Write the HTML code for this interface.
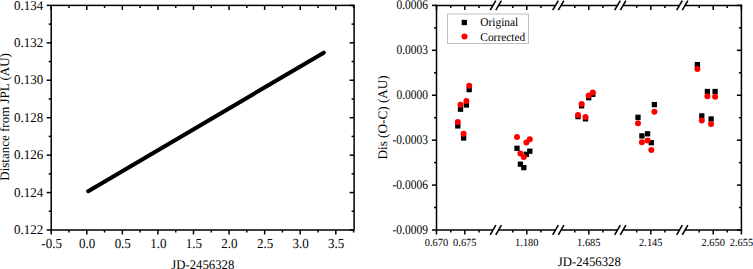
<!DOCTYPE html>
<html><head><meta charset="utf-8"><style>
html,body{margin:0;padding:0;background:#fff;width:753px;height:269px;overflow:hidden}
svg{display:block}
text{font-family:"Liberation Serif", serif;fill:#000;text-rendering:geometricPrecision}
</style></head><body>
<svg width="753" height="269" viewBox="0 0 753 269">
<line x1="88.2" y1="191.2" x2="323.8" y2="52.7" stroke="#000" stroke-width="4.1" stroke-linecap="round"/>
<rect x="51.2" y="5.4" width="302.90" height="224.6" fill="none" stroke="#000" stroke-width="1.5"/>
<line x1="51.20" y1="230.00" x2="51.20" y2="234.50" stroke="#000" stroke-width="1.5"/>
<line x1="51.20" y1="5.40" x2="51.20" y2="9.90" stroke="#000" stroke-width="1.5"/>
<text transform="translate(51.60,248.40) scale(0.97,1.03)" font-size="13.4" text-anchor="middle">-0.5</text>
<line x1="68.99" y1="230.00" x2="68.99" y2="232.50" stroke="#000" stroke-width="1.5"/>
<line x1="68.99" y1="5.40" x2="68.99" y2="7.90" stroke="#000" stroke-width="1.5"/>
<line x1="86.78" y1="230.00" x2="86.78" y2="234.50" stroke="#000" stroke-width="1.5"/>
<line x1="86.78" y1="5.40" x2="86.78" y2="9.90" stroke="#000" stroke-width="1.5"/>
<text transform="translate(87.18,248.40) scale(0.97,1.03)" font-size="13.4" text-anchor="middle">0.0</text>
<line x1="104.56" y1="230.00" x2="104.56" y2="232.50" stroke="#000" stroke-width="1.5"/>
<line x1="104.56" y1="5.40" x2="104.56" y2="7.90" stroke="#000" stroke-width="1.5"/>
<line x1="122.35" y1="230.00" x2="122.35" y2="234.50" stroke="#000" stroke-width="1.5"/>
<line x1="122.35" y1="5.40" x2="122.35" y2="9.90" stroke="#000" stroke-width="1.5"/>
<text transform="translate(122.75,248.40) scale(0.97,1.03)" font-size="13.4" text-anchor="middle">0.5</text>
<line x1="140.14" y1="230.00" x2="140.14" y2="232.50" stroke="#000" stroke-width="1.5"/>
<line x1="140.14" y1="5.40" x2="140.14" y2="7.90" stroke="#000" stroke-width="1.5"/>
<line x1="157.93" y1="230.00" x2="157.93" y2="234.50" stroke="#000" stroke-width="1.5"/>
<line x1="157.93" y1="5.40" x2="157.93" y2="9.90" stroke="#000" stroke-width="1.5"/>
<text transform="translate(158.33,248.40) scale(0.97,1.03)" font-size="13.4" text-anchor="middle">1.0</text>
<line x1="175.71" y1="230.00" x2="175.71" y2="232.50" stroke="#000" stroke-width="1.5"/>
<line x1="175.71" y1="5.40" x2="175.71" y2="7.90" stroke="#000" stroke-width="1.5"/>
<line x1="193.50" y1="230.00" x2="193.50" y2="234.50" stroke="#000" stroke-width="1.5"/>
<line x1="193.50" y1="5.40" x2="193.50" y2="9.90" stroke="#000" stroke-width="1.5"/>
<text transform="translate(193.90,248.40) scale(0.97,1.03)" font-size="13.4" text-anchor="middle">1.5</text>
<line x1="211.29" y1="230.00" x2="211.29" y2="232.50" stroke="#000" stroke-width="1.5"/>
<line x1="211.29" y1="5.40" x2="211.29" y2="7.90" stroke="#000" stroke-width="1.5"/>
<line x1="229.07" y1="230.00" x2="229.07" y2="234.50" stroke="#000" stroke-width="1.5"/>
<line x1="229.07" y1="5.40" x2="229.07" y2="9.90" stroke="#000" stroke-width="1.5"/>
<text transform="translate(229.47,248.40) scale(0.97,1.03)" font-size="13.4" text-anchor="middle">2.0</text>
<line x1="246.86" y1="230.00" x2="246.86" y2="232.50" stroke="#000" stroke-width="1.5"/>
<line x1="246.86" y1="5.40" x2="246.86" y2="7.90" stroke="#000" stroke-width="1.5"/>
<line x1="264.65" y1="230.00" x2="264.65" y2="234.50" stroke="#000" stroke-width="1.5"/>
<line x1="264.65" y1="5.40" x2="264.65" y2="9.90" stroke="#000" stroke-width="1.5"/>
<text transform="translate(265.05,248.40) scale(0.97,1.03)" font-size="13.4" text-anchor="middle">2.5</text>
<line x1="282.44" y1="230.00" x2="282.44" y2="232.50" stroke="#000" stroke-width="1.5"/>
<line x1="282.44" y1="5.40" x2="282.44" y2="7.90" stroke="#000" stroke-width="1.5"/>
<line x1="300.23" y1="230.00" x2="300.23" y2="234.50" stroke="#000" stroke-width="1.5"/>
<line x1="300.23" y1="5.40" x2="300.23" y2="9.90" stroke="#000" stroke-width="1.5"/>
<text transform="translate(300.62,248.40) scale(0.97,1.03)" font-size="13.4" text-anchor="middle">3.0</text>
<line x1="318.01" y1="230.00" x2="318.01" y2="232.50" stroke="#000" stroke-width="1.5"/>
<line x1="318.01" y1="5.40" x2="318.01" y2="7.90" stroke="#000" stroke-width="1.5"/>
<line x1="335.80" y1="230.00" x2="335.80" y2="234.50" stroke="#000" stroke-width="1.5"/>
<line x1="335.80" y1="5.40" x2="335.80" y2="9.90" stroke="#000" stroke-width="1.5"/>
<text transform="translate(336.20,248.40) scale(0.97,1.03)" font-size="13.4" text-anchor="middle">3.5</text>
<line x1="353.59" y1="230.00" x2="353.59" y2="232.50" stroke="#000" stroke-width="1.5"/>
<line x1="353.59" y1="5.40" x2="353.59" y2="7.90" stroke="#000" stroke-width="1.5"/>
<line x1="46.70" y1="5.40" x2="51.20" y2="5.40" stroke="#000" stroke-width="1.5"/>
<line x1="349.60" y1="5.40" x2="354.10" y2="5.40" stroke="#000" stroke-width="1.5"/>
<text transform="translate(43.20,10.00) scale(0.97,1.0)" font-size="13.4" text-anchor="end">0.134</text>
<line x1="48.70" y1="24.12" x2="51.20" y2="24.12" stroke="#000" stroke-width="1.5"/>
<line x1="351.60" y1="24.12" x2="354.10" y2="24.12" stroke="#000" stroke-width="1.5"/>
<line x1="46.70" y1="42.83" x2="51.20" y2="42.83" stroke="#000" stroke-width="1.5"/>
<line x1="349.60" y1="42.83" x2="354.10" y2="42.83" stroke="#000" stroke-width="1.5"/>
<text transform="translate(43.20,47.00) scale(0.97,1.0)" font-size="13.4" text-anchor="end">0.132</text>
<line x1="48.70" y1="61.55" x2="51.20" y2="61.55" stroke="#000" stroke-width="1.5"/>
<line x1="351.60" y1="61.55" x2="354.10" y2="61.55" stroke="#000" stroke-width="1.5"/>
<line x1="46.70" y1="80.27" x2="51.20" y2="80.27" stroke="#000" stroke-width="1.5"/>
<line x1="349.60" y1="80.27" x2="354.10" y2="80.27" stroke="#000" stroke-width="1.5"/>
<text transform="translate(43.20,84.00) scale(0.97,1.0)" font-size="13.4" text-anchor="end">0.130</text>
<line x1="48.70" y1="98.98" x2="51.20" y2="98.98" stroke="#000" stroke-width="1.5"/>
<line x1="351.60" y1="98.98" x2="354.10" y2="98.98" stroke="#000" stroke-width="1.5"/>
<line x1="46.70" y1="117.70" x2="51.20" y2="117.70" stroke="#000" stroke-width="1.5"/>
<line x1="349.60" y1="117.70" x2="354.10" y2="117.70" stroke="#000" stroke-width="1.5"/>
<text transform="translate(43.20,122.00) scale(0.97,1.0)" font-size="13.4" text-anchor="end">0.128</text>
<line x1="48.70" y1="136.42" x2="51.20" y2="136.42" stroke="#000" stroke-width="1.5"/>
<line x1="351.60" y1="136.42" x2="354.10" y2="136.42" stroke="#000" stroke-width="1.5"/>
<line x1="46.70" y1="155.13" x2="51.20" y2="155.13" stroke="#000" stroke-width="1.5"/>
<line x1="349.60" y1="155.13" x2="354.10" y2="155.13" stroke="#000" stroke-width="1.5"/>
<text transform="translate(43.20,159.00) scale(0.97,1.0)" font-size="13.4" text-anchor="end">0.126</text>
<line x1="48.70" y1="173.85" x2="51.20" y2="173.85" stroke="#000" stroke-width="1.5"/>
<line x1="351.60" y1="173.85" x2="354.10" y2="173.85" stroke="#000" stroke-width="1.5"/>
<line x1="46.70" y1="192.57" x2="51.20" y2="192.57" stroke="#000" stroke-width="1.5"/>
<line x1="349.60" y1="192.57" x2="354.10" y2="192.57" stroke="#000" stroke-width="1.5"/>
<text transform="translate(43.20,197.00) scale(0.97,1.0)" font-size="13.4" text-anchor="end">0.124</text>
<line x1="48.70" y1="211.28" x2="51.20" y2="211.28" stroke="#000" stroke-width="1.5"/>
<line x1="351.60" y1="211.28" x2="354.10" y2="211.28" stroke="#000" stroke-width="1.5"/>
<line x1="46.70" y1="230.00" x2="51.20" y2="230.00" stroke="#000" stroke-width="1.5"/>
<line x1="349.60" y1="230.00" x2="354.10" y2="230.00" stroke="#000" stroke-width="1.5"/>
<text transform="translate(43.20,234.00) scale(0.97,1.0)" font-size="13.4" text-anchor="end">0.122</text>
<text transform="translate(202.80,268.90) scale(0.98,1.01)" font-size="13" text-anchor="middle">JD-2456328</text>
<text transform="translate(9.0,116.9) rotate(-90)" font-size="13" text-anchor="middle">Distance from JPL (AU)</text>
<line x1="432.00" y1="5.40" x2="436.50" y2="5.40" stroke="#000" stroke-width="1.5"/>
<line x1="736.90" y1="5.40" x2="741.40" y2="5.40" stroke="#000" stroke-width="1.5"/>
<text transform="translate(428.00,9.00) scale(1.0,1.16)" font-size="11.5" text-anchor="end">0.0006</text>
<line x1="434.00" y1="27.86" x2="436.50" y2="27.86" stroke="#000" stroke-width="1.5"/>
<line x1="738.90" y1="27.86" x2="741.40" y2="27.86" stroke="#000" stroke-width="1.5"/>
<line x1="432.00" y1="50.32" x2="436.50" y2="50.32" stroke="#000" stroke-width="1.5"/>
<line x1="736.90" y1="50.32" x2="741.40" y2="50.32" stroke="#000" stroke-width="1.5"/>
<text transform="translate(428.00,54.00) scale(1.0,1.16)" font-size="11.5" text-anchor="end">0.0003</text>
<line x1="434.00" y1="72.78" x2="436.50" y2="72.78" stroke="#000" stroke-width="1.5"/>
<line x1="738.90" y1="72.78" x2="741.40" y2="72.78" stroke="#000" stroke-width="1.5"/>
<line x1="432.00" y1="95.24" x2="436.50" y2="95.24" stroke="#000" stroke-width="1.5"/>
<line x1="736.90" y1="95.24" x2="741.40" y2="95.24" stroke="#000" stroke-width="1.5"/>
<text transform="translate(428.00,99.00) scale(1.0,1.16)" font-size="11.5" text-anchor="end">0.0000</text>
<line x1="434.00" y1="117.70" x2="436.50" y2="117.70" stroke="#000" stroke-width="1.5"/>
<line x1="738.90" y1="117.70" x2="741.40" y2="117.70" stroke="#000" stroke-width="1.5"/>
<line x1="432.00" y1="140.16" x2="436.50" y2="140.16" stroke="#000" stroke-width="1.5"/>
<line x1="736.90" y1="140.16" x2="741.40" y2="140.16" stroke="#000" stroke-width="1.5"/>
<text transform="translate(428.00,144.00) scale(1.0,1.16)" font-size="11.5" text-anchor="end">-0.0003</text>
<line x1="434.00" y1="162.62" x2="436.50" y2="162.62" stroke="#000" stroke-width="1.5"/>
<line x1="738.90" y1="162.62" x2="741.40" y2="162.62" stroke="#000" stroke-width="1.5"/>
<line x1="432.00" y1="185.08" x2="436.50" y2="185.08" stroke="#000" stroke-width="1.5"/>
<line x1="736.90" y1="185.08" x2="741.40" y2="185.08" stroke="#000" stroke-width="1.5"/>
<text transform="translate(428.00,189.00) scale(1.0,1.16)" font-size="11.5" text-anchor="end">-0.0006</text>
<line x1="434.00" y1="207.54" x2="436.50" y2="207.54" stroke="#000" stroke-width="1.5"/>
<line x1="738.90" y1="207.54" x2="741.40" y2="207.54" stroke="#000" stroke-width="1.5"/>
<line x1="432.00" y1="230.00" x2="436.50" y2="230.00" stroke="#000" stroke-width="1.5"/>
<line x1="736.90" y1="230.00" x2="741.40" y2="230.00" stroke="#000" stroke-width="1.5"/>
<text transform="translate(428.00,234.00) scale(1.0,1.16)" font-size="11.5" text-anchor="end">-0.0009</text>
<line x1="436.50" y1="4.65" x2="436.50" y2="230.75" stroke="#000" stroke-width="1.5"/>
<line x1="741.40" y1="4.65" x2="741.40" y2="230.75" stroke="#000" stroke-width="1.5"/>
<line x1="435.75" y1="230.00" x2="493.00" y2="230.00" stroke="#000" stroke-width="1.5"/>
<line x1="435.75" y1="5.40" x2="493.00" y2="5.40" stroke="#000" stroke-width="1.5"/>
<line x1="498.60" y1="230.00" x2="555.50" y2="230.00" stroke="#000" stroke-width="1.5"/>
<line x1="498.60" y1="5.40" x2="555.50" y2="5.40" stroke="#000" stroke-width="1.5"/>
<line x1="561.10" y1="230.00" x2="617.50" y2="230.00" stroke="#000" stroke-width="1.5"/>
<line x1="561.10" y1="5.40" x2="617.50" y2="5.40" stroke="#000" stroke-width="1.5"/>
<line x1="623.10" y1="230.00" x2="679.50" y2="230.00" stroke="#000" stroke-width="1.5"/>
<line x1="623.10" y1="5.40" x2="679.50" y2="5.40" stroke="#000" stroke-width="1.5"/>
<line x1="685.10" y1="230.00" x2="742.15" y2="230.00" stroke="#000" stroke-width="1.5"/>
<line x1="685.10" y1="5.40" x2="742.15" y2="5.40" stroke="#000" stroke-width="1.5"/>
<line x1="490.20" y1="10.20" x2="495.80" y2="0.60" stroke="#000" stroke-width="1.6"/>
<line x1="495.80" y1="10.20" x2="501.40" y2="0.60" stroke="#000" stroke-width="1.6"/>
<line x1="490.20" y1="234.80" x2="495.80" y2="225.20" stroke="#000" stroke-width="1.6"/>
<line x1="495.80" y1="234.80" x2="501.40" y2="225.20" stroke="#000" stroke-width="1.6"/>
<line x1="552.70" y1="10.20" x2="558.30" y2="0.60" stroke="#000" stroke-width="1.6"/>
<line x1="558.30" y1="10.20" x2="563.90" y2="0.60" stroke="#000" stroke-width="1.6"/>
<line x1="552.70" y1="234.80" x2="558.30" y2="225.20" stroke="#000" stroke-width="1.6"/>
<line x1="558.30" y1="234.80" x2="563.90" y2="225.20" stroke="#000" stroke-width="1.6"/>
<line x1="614.70" y1="10.20" x2="620.30" y2="0.60" stroke="#000" stroke-width="1.6"/>
<line x1="620.30" y1="10.20" x2="625.90" y2="0.60" stroke="#000" stroke-width="1.6"/>
<line x1="614.70" y1="234.80" x2="620.30" y2="225.20" stroke="#000" stroke-width="1.6"/>
<line x1="620.30" y1="234.80" x2="625.90" y2="225.20" stroke="#000" stroke-width="1.6"/>
<line x1="676.70" y1="10.20" x2="682.30" y2="0.60" stroke="#000" stroke-width="1.6"/>
<line x1="682.30" y1="10.20" x2="687.90" y2="0.60" stroke="#000" stroke-width="1.6"/>
<line x1="676.70" y1="234.80" x2="682.30" y2="225.20" stroke="#000" stroke-width="1.6"/>
<line x1="682.30" y1="234.80" x2="687.90" y2="225.20" stroke="#000" stroke-width="1.6"/>
<line x1="436.50" y1="230.00" x2="436.50" y2="234.50" stroke="#000" stroke-width="1.5"/>
<line x1="436.50" y1="5.40" x2="436.50" y2="9.90" stroke="#000" stroke-width="1.5"/>
<text transform="translate(436.50,246.20) scale(0.92,0.97)" font-size="11.3" text-anchor="middle">0.670</text>
<line x1="450.70" y1="230.00" x2="450.70" y2="232.50" stroke="#000" stroke-width="1.5"/>
<line x1="450.70" y1="5.40" x2="450.70" y2="7.90" stroke="#000" stroke-width="1.5"/>
<line x1="464.80" y1="230.00" x2="464.80" y2="234.50" stroke="#000" stroke-width="1.5"/>
<line x1="464.80" y1="5.40" x2="464.80" y2="9.90" stroke="#000" stroke-width="1.5"/>
<text transform="translate(464.80,246.20) scale(0.92,0.97)" font-size="11.3" text-anchor="middle">0.675</text>
<line x1="479.00" y1="230.00" x2="479.00" y2="232.50" stroke="#000" stroke-width="1.5"/>
<line x1="479.00" y1="5.40" x2="479.00" y2="7.90" stroke="#000" stroke-width="1.5"/>
<line x1="512.80" y1="230.00" x2="512.80" y2="232.50" stroke="#000" stroke-width="1.5"/>
<line x1="512.80" y1="5.40" x2="512.80" y2="7.90" stroke="#000" stroke-width="1.5"/>
<line x1="526.80" y1="230.00" x2="526.80" y2="234.50" stroke="#000" stroke-width="1.5"/>
<line x1="526.80" y1="5.40" x2="526.80" y2="9.90" stroke="#000" stroke-width="1.5"/>
<text transform="translate(526.80,246.20) scale(0.92,0.97)" font-size="11.3" text-anchor="middle">1.180</text>
<line x1="540.90" y1="230.00" x2="540.90" y2="232.50" stroke="#000" stroke-width="1.5"/>
<line x1="540.90" y1="5.40" x2="540.90" y2="7.90" stroke="#000" stroke-width="1.5"/>
<line x1="574.80" y1="230.00" x2="574.80" y2="232.50" stroke="#000" stroke-width="1.5"/>
<line x1="574.80" y1="5.40" x2="574.80" y2="7.90" stroke="#000" stroke-width="1.5"/>
<line x1="588.80" y1="230.00" x2="588.80" y2="234.50" stroke="#000" stroke-width="1.5"/>
<line x1="588.80" y1="5.40" x2="588.80" y2="9.90" stroke="#000" stroke-width="1.5"/>
<text transform="translate(588.80,246.20) scale(0.92,0.97)" font-size="11.3" text-anchor="middle">1.685</text>
<line x1="602.90" y1="230.00" x2="602.90" y2="232.50" stroke="#000" stroke-width="1.5"/>
<line x1="602.90" y1="5.40" x2="602.90" y2="7.90" stroke="#000" stroke-width="1.5"/>
<line x1="636.70" y1="230.00" x2="636.70" y2="232.50" stroke="#000" stroke-width="1.5"/>
<line x1="636.70" y1="5.40" x2="636.70" y2="7.90" stroke="#000" stroke-width="1.5"/>
<line x1="650.80" y1="230.00" x2="650.80" y2="234.50" stroke="#000" stroke-width="1.5"/>
<line x1="650.80" y1="5.40" x2="650.80" y2="9.90" stroke="#000" stroke-width="1.5"/>
<text transform="translate(650.80,246.20) scale(0.92,0.97)" font-size="11.3" text-anchor="middle">2.145</text>
<line x1="664.90" y1="230.00" x2="664.90" y2="232.50" stroke="#000" stroke-width="1.5"/>
<line x1="664.90" y1="5.40" x2="664.90" y2="7.90" stroke="#000" stroke-width="1.5"/>
<line x1="699.20" y1="230.00" x2="699.20" y2="232.50" stroke="#000" stroke-width="1.5"/>
<line x1="699.20" y1="5.40" x2="699.20" y2="7.90" stroke="#000" stroke-width="1.5"/>
<line x1="713.20" y1="230.00" x2="713.20" y2="234.50" stroke="#000" stroke-width="1.5"/>
<line x1="713.20" y1="5.40" x2="713.20" y2="9.90" stroke="#000" stroke-width="1.5"/>
<text transform="translate(713.20,246.20) scale(0.92,0.97)" font-size="11.3" text-anchor="middle">2.650</text>
<line x1="727.20" y1="230.00" x2="727.20" y2="232.50" stroke="#000" stroke-width="1.5"/>
<line x1="727.20" y1="5.40" x2="727.20" y2="7.90" stroke="#000" stroke-width="1.5"/>
<line x1="741.40" y1="230.00" x2="741.40" y2="234.50" stroke="#000" stroke-width="1.5"/>
<line x1="741.40" y1="5.40" x2="741.40" y2="9.90" stroke="#000" stroke-width="1.5"/>
<text transform="translate(741.40,246.20) scale(0.92,0.97)" font-size="11.3" text-anchor="middle">2.655</text>
<text transform="translate(589.30,266.20) scale(0.98,1.01)" font-size="13" text-anchor="middle">JD-2456328</text>
<text transform="translate(386.6,117.4) rotate(-90)" font-size="13.2" text-anchor="middle">Dis (O-C) (AU)</text>
<rect x="447.5" y="14" width="81" height="29.5" fill="#fff" stroke="#c0c0c0" stroke-width="1"/>
<rect x="461.65" y="19.85" width="5.3" height="5.3" fill="#000"/>
<circle cx="464.5" cy="36.6" r="3.0" fill="#f00"/>
<text transform="translate(480.30,26.30) scale(1.0,1.04)" font-size="11.4" text-anchor="start">Original</text>
<text transform="translate(480.30,40.60) scale(1.0,1.04)" font-size="11.4" text-anchor="start">Corrected</text>
<rect x="455.15" y="123.25" width="5.3" height="5.3" fill="#000"/>
<rect x="457.85" y="106.55" width="5.3" height="5.3" fill="#000"/>
<rect x="460.95" y="135.35" width="5.3" height="5.3" fill="#000"/>
<rect x="463.75" y="102.35" width="5.3" height="5.3" fill="#000"/>
<rect x="466.55" y="86.95" width="5.3" height="5.3" fill="#000"/>
<rect x="514.35" y="145.65" width="5.3" height="5.3" fill="#000"/>
<rect x="517.75" y="161.55" width="5.3" height="5.3" fill="#000"/>
<rect x="521.15" y="164.95" width="5.3" height="5.3" fill="#000"/>
<rect x="523.75" y="151.65" width="5.3" height="5.3" fill="#000"/>
<rect x="527.15" y="148.55" width="5.3" height="5.3" fill="#000"/>
<rect x="575.35" y="113.95" width="5.3" height="5.3" fill="#000"/>
<rect x="578.95" y="103.15" width="5.3" height="5.3" fill="#000"/>
<rect x="582.85" y="116.15" width="5.3" height="5.3" fill="#000"/>
<rect x="586.05" y="95.05" width="5.3" height="5.3" fill="#000"/>
<rect x="590.15" y="91.65" width="5.3" height="5.3" fill="#000"/>
<rect x="635.35" y="114.65" width="5.3" height="5.3" fill="#000"/>
<rect x="639.25" y="133.25" width="5.3" height="5.3" fill="#000"/>
<rect x="644.95" y="131.15" width="5.3" height="5.3" fill="#000"/>
<rect x="648.65" y="140.05" width="5.3" height="5.3" fill="#000"/>
<rect x="651.75" y="101.95" width="5.3" height="5.3" fill="#000"/>
<rect x="694.75" y="61.95" width="5.3" height="5.3" fill="#000"/>
<rect x="699.15" y="113.25" width="5.3" height="5.3" fill="#000"/>
<rect x="704.75" y="88.85" width="5.3" height="5.3" fill="#000"/>
<rect x="708.45" y="116.35" width="5.3" height="5.3" fill="#000"/>
<rect x="712.45" y="88.85" width="5.3" height="5.3" fill="#000"/>
<circle cx="457.80" cy="122.00" r="3.0" fill="#f00"/>
<circle cx="460.50" cy="104.70" r="3.0" fill="#f00"/>
<circle cx="463.60" cy="133.80" r="3.0" fill="#f00"/>
<circle cx="466.40" cy="101.10" r="3.0" fill="#f00"/>
<circle cx="469.20" cy="85.70" r="3.0" fill="#f00"/>
<circle cx="517.00" cy="137.00" r="3.0" fill="#f00"/>
<circle cx="520.40" cy="153.40" r="3.0" fill="#f00"/>
<circle cx="523.80" cy="156.90" r="3.0" fill="#f00"/>
<circle cx="526.40" cy="142.50" r="3.0" fill="#f00"/>
<circle cx="529.80" cy="139.30" r="3.0" fill="#f00"/>
<circle cx="578.00" cy="115.00" r="3.0" fill="#f00"/>
<circle cx="581.60" cy="104.00" r="3.0" fill="#f00"/>
<circle cx="585.50" cy="117.00" r="3.0" fill="#f00"/>
<circle cx="588.70" cy="95.40" r="3.0" fill="#f00"/>
<circle cx="592.80" cy="92.40" r="3.0" fill="#f00"/>
<circle cx="638.00" cy="123.30" r="3.0" fill="#f00"/>
<circle cx="641.90" cy="142.20" r="3.0" fill="#f00"/>
<circle cx="647.60" cy="140.60" r="3.0" fill="#f00"/>
<circle cx="651.30" cy="150.00" r="3.0" fill="#f00"/>
<circle cx="654.40" cy="111.80" r="3.0" fill="#f00"/>
<circle cx="697.40" cy="68.90" r="3.0" fill="#f00"/>
<circle cx="701.80" cy="120.40" r="3.0" fill="#f00"/>
<circle cx="707.40" cy="96.20" r="3.0" fill="#f00"/>
<circle cx="711.10" cy="124.00" r="3.0" fill="#f00"/>
<circle cx="715.10" cy="96.80" r="3.0" fill="#f00"/>
</svg>
</body></html>
